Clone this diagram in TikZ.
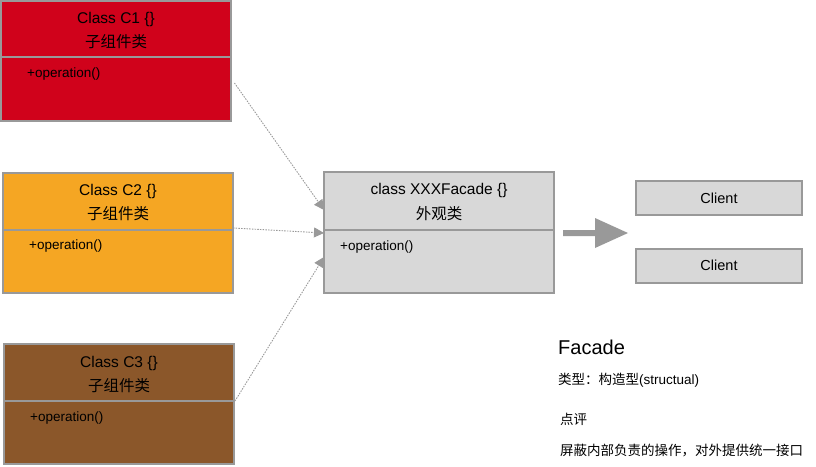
\documentclass[tikz,border=0pt]{standalone}
\usepackage{fontspec}
\setmainfont{Liberation Sans}
\newfontfamily\cjk{Noto Sans CJK SC}
\usetikzlibrary{arrows.meta}
\definecolor{bordergray}{HTML}{999999}
\definecolor{cred}{HTML}{D0021B}
\definecolor{corange}{HTML}{F5A623}
\definecolor{cbrown}{HTML}{8B572A}
\definecolor{cgray}{HTML}{D8D8D8}
\definecolor{arrgray}{HTML}{999999}
\tikzset{
  classbox/.style={draw=bordergray, line width=2pt},
  divider/.style={draw=bordergray, line width=2pt},
  titletext/.style={font=\fontsize{15.5}{17}\selectfont, inner sep=0pt, anchor=center},
  optext/.style={font=\fontsize{13.5}{15}\selectfont, inner sep=0pt, anchor=west},
  dep/.style={draw=arrgray, line width=0.9pt, dash pattern=on 1.5pt off 1.2pt, -{Triangle[length=10pt,width=10pt,fill=arrgray]}},
  infotext/.style={font=\fontsize{13.5}{15}\selectfont, inner sep=0pt, anchor=west},
}
\begin{document}
\begin{tikzpicture}[x=1pt, y=-1pt]
\useasboundingbox (0,0) rectangle (816,466);
% C1
\draw[classbox, fill=cred] (1,1) rectangle (231,121);
\draw[divider] (1,57) -- (231,57);
\node[titletext] (c1t1) at (116,19) {Class C1 \{\}};
\node[titletext] (c1t2) at (116,42) {\cjk 子组件类};
\node[optext] (c1op) at (27,74) {+operation()};
% C2
\draw[classbox, fill=corange] (3,173) rectangle (233,293);
\draw[divider] (3,230) -- (233,230);
\node[titletext] (c2t1) at (118,191) {Class C2 \{\}};
\node[titletext] (c2t2) at (118,214) {\cjk 子组件类};
\node[optext] (c2op) at (29,246) {+operation()};
% C3
\draw[classbox, fill=cbrown] (4,344) rectangle (234,464);
\draw[divider] (4,401) -- (234,401);
\node[titletext] (c3t1) at (119,363) {Class C3 \{\}};
\node[titletext] (c3t2) at (119,386) {\cjk 子组件类};
\node[optext] (c3op) at (30,418) {+operation()};
% Facade
\draw[classbox, fill=cgray] (324,172) rectangle (554,293);
\draw[divider] (324,230) -- (554,230);
\node[titletext] (ft1) at (439,190) {class XXXFacade \{\}};
\node[titletext] (ft2) at (439,214) {\cjk 外观类};
\node[optext] (fop) at (340,247) {+operation()};
% dependency arrows
\coordinate (s1) at (234.5,83);
\coordinate (e1) at (324,210);
\coordinate (s2) at (233,228);
\coordinate (e2) at (324,233);
\coordinate (s3) at (235,401);
\coordinate (e3) at (324,257);
\draw[dep] (s1) -- (e1);
\draw[dep] (s2) -- (e2);
\draw[dep] (s3) -- (e3);
% big arrow
\fill[arrgray] (563,230) -- (595,230) -- (595,218) -- (628,233) -- (595,248) -- (595,236) -- (563,236) -- cycle;
% clients
\node[classbox, fill=cgray, minimum width=166pt, minimum height=34pt, inner sep=0pt, font=\fontsize{14.5}{16}\selectfont] (cl1) at (719,198) {Client};
\node[classbox, fill=cgray, minimum width=166pt, minimum height=34pt, inner sep=0pt, font=\fontsize{14.5}{16}\selectfont] (cl2) at (719,265.5) {Client};
% info
\node[infotext, font=\fontsize{20}{22}\selectfont] (info1) at (558,347) {Facade};
\node[infotext] (info2) at (558,380.5) {{\cjk 类型：构造型}(structual)};
\node[infotext] (info3) at (560,419.5) {\cjk 点评};
\node[infotext] (info4) at (560,450.5) {\cjk 屏蔽内部负责的操作，对外提供统一接口};
\end{tikzpicture}
\end{document}
